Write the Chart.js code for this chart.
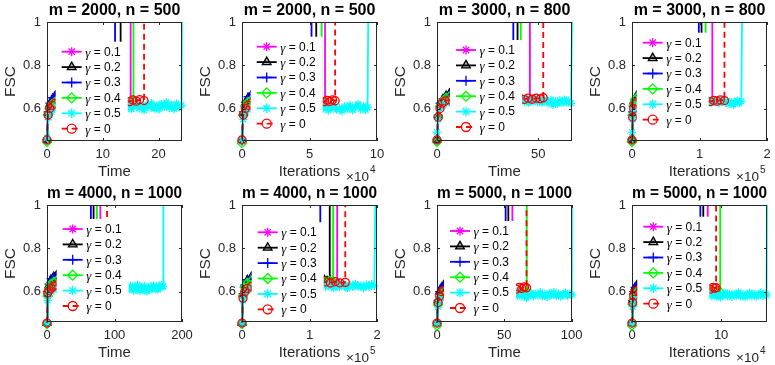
<!DOCTYPE html>
<html><head><meta charset="utf-8">
<script src="https://cdn.jsdelivr.net/npm/chart.js@4.4.0/dist/chart.umd.min.js"></script>
<style>
html,body{margin:0;padding:0;background:#fff;overflow:hidden;width:775px;height:365px;position:relative;}
canvas{position:absolute;}
</style></head><body>
<script>
// ---------------- DATA ----------------
const LEGEND_LABELS = ['γ = 0.1','γ = 0.2','γ = 0.3','γ = 0.4','γ = 0.5','γ = 0'];
const TITLES = ['m = 2000, n = 500','m = 2000, n = 500','m = 3000, n = 800','m = 3000, n = 800',
                'm = 4000, n = 1000','m = 4000, n = 1000','m = 5000, n = 1000','m = 5000, n = 1000'];
const X_LABELS = ['Time','Iterations','Time','Iterations','Time','Iterations','Time','Iterations'];
const X_EXPONENTS = ['', '4', '', '5', '', '5', '', '4'];
const X_MAX = [24.2, 10, 66.7, 2, 200, 2, 100.3, 15.15];
const X_TICKS = [[0,10,20],[0,5,10],[0,50],[0,1,2],[0,100,200],[0,1,2],[0,50,100],[0,10]];
const Y_MIN = [0.45,0.45,0.45,0.45,0.46,0.46,0.46,0.46];
const Y_MAX = 1;
const Y_TICKS = [0.6, 0.8, 1];
const Y_LABEL = 'FSC';

// Panel 1: m=2000, n=500, Time
const p1_g01 = [[0,0.455],[0.15,0.56],[0.4,0.6],[0.8,0.62],[1.3,0.635],[1.8,0.645],[4,0.645],[7,0.64],[10,0.635],[13,0.63],[15.0,0.615],[15.0,1]];
const p1_g02 = [[0,0.455],[0.2,0.58],[0.5,0.62],[1.0,0.645],[1.5,0.66],[1.9,0.665],[5,0.66],[9,0.655],[13.2,0.65],[13.2,1]];
const p1_g03 = [[0,0.455],[0.2,0.585],[0.5,0.625],[1.0,0.65],[1.5,0.66],[1.9,0.67],[5,0.665],[9,0.66],[12.2,0.655],[12.2,1]];
const p1_g04 = [[0,0.445],[0.15,0.57],[0.4,0.6],[0.9,0.62],[1.4,0.63],[1.9,0.64],[5,0.64],[10,0.638],[15.5,0.635],[15.5,1]];
const p1_g05 = [[0,0.465],[0.3,0.56],[0.8,0.585],[1.3,0.6],[1.8,0.605],[4,0.61],[8,0.607],[12,0.61],
  [14.2,0.605],[14.7,0.622],[15.1,0.598],[15.6,0.615],[16.0,0.627],[16.5,0.601],[16.9,0.612],[17.4,0.593],[17.8,0.618],
  [18.3,0.606],[18.7,0.625],[19.2,0.6],[19.6,0.614],[20.1,0.596],[20.5,0.62],[21.0,0.608],[21.4,0.628],[21.9,0.603],
  [22.3,0.616],[22.8,0.598],[23.2,0.622],[23.7,0.607],[24.1,0.615],[24.2,1]];
const p1_g0 = [[0,0.455],[0.2,0.57],[0.5,0.6],[1.0,0.615],[1.5,0.625],[4,0.63],[8,0.632],[12,0.633],[14.8,0.632],[15.4,0.64],[16.0,0.634],[16.6,0.641],[17.4,0.637],[17.4,1]];

// Panel 2: m=2000, n=500, Iterations x1e4
const p2_g01 = [[0,0.455],[0.1,0.57],[0.25,0.61],[0.45,0.63],[0.7,0.64],[2,0.64],[4,0.635],[6.15,0.62],[6.15,1]];
const p2_g02 = [[0,0.455],[0.1,0.58],[0.25,0.625],[0.45,0.65],[0.7,0.665],[2.5,0.66],[5.5,0.65],[5.5,1]];
const p2_g03 = [[0,0.45],[0.1,0.585],[0.25,0.63],[0.45,0.655],[0.7,0.665],[2.5,0.66],[5.15,0.65],[5.15,1]];
const p2_g04 = [[0,0.44],[0.1,0.57],[0.25,0.61],[0.45,0.63],[0.7,0.64],[3,0.64],[5.9,0.635],[5.9,1]];
const p2_g05 = [[0,0.46],[0.1,0.55],[0.25,0.585],[0.45,0.595],[0.7,0.6],[3,0.6],[5.8,0.6],
  [6.0,0.6],[6.2,0.612],[6.4,0.592],[6.6,0.605],[6.8,0.618],[7.0,0.595],[7.2,0.603],[7.4,0.588],[7.6,0.61],[7.8,0.598],
  [8.0,0.615],[8.2,0.593],[8.4,0.607],[8.6,0.62],[8.8,0.597],[9.0,0.611],[9.15,0.594],[9.3,0.606],[9.35,1]];
const p2_g0 = [[0,0.455],[0.1,0.57],[0.25,0.6],[0.45,0.615],[0.7,0.625],[3,0.63],[6.1,0.632],[6.3,0.638],[6.5,0.633],[6.7,0.64],[6.9,0.636],[6.9,1]];

// Panel 3: m=3000, n=800, Time
const p3_g01 = [[0,0.455],[0.6,0.56],[1.5,0.61],[3,0.635],[4.5,0.645],[6.2,0.655],[15,0.655],[30,0.65],[42,0.645],[44,0.64],[45.9,0.645],[45.9,1]];
const p3_g02 = [[0,0.455],[0.6,0.57],[1.5,0.62],[3,0.645],[4.5,0.66],[6.2,0.67],[20,0.665],[39.8,0.66],[39.8,1]];
const p3_g03 = [[0,0.455],[0.6,0.57],[1.5,0.625],[3,0.645],[4.5,0.66],[6.2,0.665],[20,0.66],[37.7,0.655],[37.7,1]];
const p3_g04 = [[0,0.445],[0.6,0.56],[1.5,0.61],[3,0.635],[4.5,0.65],[6.2,0.655],[20,0.65],[41.4,0.65],[41.4,1]];
const p3_g05 = [[0,0.49],[0.6,0.55],[1.5,0.6],[3,0.615],[4.5,0.625],[6.2,0.63],[20,0.635],[40,0.635],
  [42.0,0.64],[43.1,0.632],[44.2,0.645],[45.3,0.628],[46.4,0.64],[47.5,0.633],[48.6,0.647],[49.7,0.63],[50.8,0.638],
  [51.9,0.627],[53.0,0.642],[54.1,0.634],[55.2,0.625],[56.3,0.64],[57.4,0.618],[58.5,0.632],[59.6,0.622],[60.7,0.637],
  [61.8,0.626],[62.9,0.641],[64.0,0.629],[65.1,0.636],[66.2,0.624],[66.7,1]];
const p3_g0 = [[0,0.455],[0.6,0.56],[1.5,0.6],[2.5,0.625],[4,0.635],[6.2,0.64],[20,0.645],[40,0.645],[43,0.642],[45,0.648],[47,0.643],[49,0.648],[51,0.645],[52.5,0.65],[52.5,1]];

// Panel 4: m=3000, n=800, Iterations x1e5
const p4_g01 = [[0,0.455],[0.01,0.57],[0.025,0.61],[0.045,0.63],[0.07,0.64],[0.3,0.645],[0.7,0.64],[1.1,0.635],[1.19,0.632],[1.19,1]];
const p4_g02 = [[0,0.455],[0.01,0.58],[0.025,0.62],[0.045,0.645],[0.07,0.66],[0.4,0.66],[1.03,0.655],[1.03,1]];
const p4_g03 = [[0,0.455],[0.01,0.585],[0.025,0.625],[0.045,0.645],[0.07,0.655],[0.4,0.655],[0.99,0.65],[0.99,1]];
const p4_g04 = [[0,0.445],[0.01,0.57],[0.025,0.615],[0.045,0.64],[0.07,0.65],[0.4,0.65],[1.09,0.645],[1.09,1]];
const p4_g05 = [[0,0.49],[0.01,0.55],[0.025,0.59],[0.045,0.6],[0.07,0.61],[0.4,0.625],[0.9,0.63],[1.12,0.63],
  [1.14,0.635],[1.17,0.628],[1.2,0.64],[1.23,0.63],[1.26,0.637],[1.29,0.625],[1.32,0.633],[1.35,0.641],[1.38,0.627],
  [1.41,0.635],[1.44,0.622],[1.47,0.63],[1.5,0.618],[1.53,0.628],[1.56,0.636],[1.59,0.625],[1.62,0.633],[1.63,1]];
const p4_g0 = [[0,0.455],[0.01,0.56],[0.025,0.6],[0.045,0.62],[0.07,0.63],[0.4,0.635],[0.9,0.635],[1.16,0.632],[1.21,0.638],[1.26,0.634],[1.31,0.64],[1.37,0.637],[1.37,1]];

// Panel 5: m=4000, n=1000, Time
const p5_g01 = [[0,0.455],[1,0.58],[3,0.615],[6,0.635],[10,0.645],[14,0.65],[40,0.65],[79,0.645],[79,1]];
const p5_g02 = [[0,0.455],[1,0.59],[3,0.63],[6,0.655],[10,0.67],[14,0.675],[40,0.67],[69,0.665],[69,1]];
const p5_g03 = [[0,0.455],[1,0.6],[3,0.635],[6,0.66],[10,0.67],[14,0.67],[40,0.665],[65,0.66],[65,1]];
const p5_g04 = [[0,0.45],[1,0.58],[3,0.615],[6,0.635],[10,0.645],[14,0.65],[40,0.65],[74,0.645],[74,1]];
const p5_g05 = [[0,0.455],[1,0.56],[3,0.59],[6,0.6],[10,0.61],[14,0.615],[60,0.62],[110,0.62],
  [120,0.62],[122,0.612],[124,0.628],[126,0.615],[128,0.606],[130,0.622],[132,0.61],[134,0.63],[136,0.617],[138,0.604],
  [140,0.62],[142,0.611],[144,0.626],[146,0.608],[148,0.602],[150,0.618],[152,0.609],[154,0.624],[156,0.614],[158,0.628],
  [160,0.616],[162,0.622],[164,0.61],[166,0.626],[168,0.619],[170,0.631],[172,0.624],[172.5,1]];
const p5_g0 = [[0,0.455],[1,0.595],[3,0.605],[6,0.615],[10,0.625],[14,0.63],[40,0.635],[89,0.635],[89,1]];

// Panel 6: m=4000, n=1000, Iterations x1e5
const p6_g01 = [[0,0.455],[0.015,0.58],[0.04,0.62],[0.08,0.64],[0.14,0.65],[0.6,0.65],[1.0,0.648],[1.25,0.645],[1.3,0.648],[1.35,0.643],[1.41,0.645],[1.41,1]];
const p6_g02 = [[0,0.455],[0.015,0.59],[0.04,0.63],[0.08,0.655],[0.14,0.67],[0.6,0.665],[1.0,0.66],[1.22,0.655],[1.26,0.65],[1.3,0.652],[1.3,1]];
const p6_g03 = [[0,0.455],[0.015,0.59],[0.04,0.63],[0.08,0.655],[0.14,0.665],[0.6,0.66],[1.16,0.655],[1.16,1]];
const p6_g04 = [[0,0.45],[0.015,0.58],[0.04,0.62],[0.08,0.64],[0.14,0.65],[0.6,0.65],[1.0,0.648],[1.24,0.645],[1.3,0.65],[1.35,0.646],[1.35,1]];
const p6_g05 = [[0,0.455],[0.015,0.56],[0.04,0.59],[0.08,0.605],[0.14,0.615],[0.6,0.625],[1.1,0.63],
  [1.2,0.63],[1.24,0.622],[1.28,0.635],[1.32,0.625],[1.36,0.618],[1.4,0.632],[1.44,0.621],[1.48,0.637],[1.52,0.626],
  [1.56,0.615],[1.6,0.63],[1.64,0.622],[1.68,0.636],[1.72,0.624],[1.76,0.628],[1.8,0.617],[1.84,0.632],[1.88,0.623],
  [1.92,0.635],[1.96,0.627],[1.975,1]];
const p6_g0 = [[0,0.455],[0.015,0.57],[0.04,0.6],[0.08,0.615],[0.14,0.625],[0.6,0.635],[1.1,0.64],[1.24,0.645],[1.31,0.64],[1.38,0.646],[1.45,0.641],[1.53,0.643],[1.53,1]];

// Panel 7: m=5000, n=1000, Time
const p7_g01 = [[0,0.455],[0.8,0.55],[2,0.59],[3.5,0.605],[5,0.615],[20,0.62],[40,0.62],[56,0.615],[56,1]];
const p7_g02 = [[0,0.455],[0.8,0.56],[2,0.6],[3.5,0.62],[5,0.63],[20,0.63],[53,0.625],[53,1]];
const p7_g03 = [[0,0.455],[0.8,0.56],[2,0.6],[3.5,0.62],[5,0.63],[20,0.63],[51,0.625],[51,1]];
const p7_g04 = [[0,0.443],[0.8,0.54],[2.4,0.57],[3.5,0.59],[5,0.6],[20,0.605],[45,0.605],[62,0.6],[66.7,0.6],[66.7,1]];
const p7_g05 = [[0,0.455],[0.8,0.53],[2,0.56],[3.5,0.575],[5,0.58],[20,0.585],[45,0.585],
  [58,0.59],[59.7,0.582],[61.4,0.595],[63.1,0.578],[64.8,0.588],[66.5,0.572],[68.2,0.586],[69.9,0.594],[71.6,0.579],
  [73.3,0.59],[75,0.583],[76.7,0.597],[78.4,0.58],[80.1,0.588],[81.8,0.576],[83.5,0.592],[85.2,0.584],[86.9,0.598],
  [88.6,0.581],[90.3,0.59],[92,0.578],[93.7,0.587],[95.4,0.595],[97.1,0.582],[98.8,0.589],[100.2,0.585],[100.3,1]];
const p7_g0 = [[0,0.455],[0.8,0.55],[2,0.58],[3.5,0.6],[5,0.605],[20,0.61],[45,0.612],[59,0.612],[61,0.62],[63,0.615],[65,0.622],[66.5,0.618],[66.5,1]];

// Panel 8: m=5000, n=1000, Iterations x1e4
const p8_g01 = [[0,0.455],[0.08,0.55],[0.2,0.59],[0.35,0.605],[0.55,0.615],[2,0.62],[5,0.62],[8.5,0.615],[8.5,1]];
const p8_g02 = [[0,0.455],[0.08,0.56],[0.2,0.6],[0.35,0.62],[0.55,0.63],[2,0.63],[8.0,0.625],[8.0,1]];
const p8_g03 = [[0,0.455],[0.08,0.56],[0.2,0.6],[0.35,0.62],[0.55,0.63],[2,0.63],[7.67,0.625],[7.67,1]];
const p8_g04 = [[0,0.443],[0.08,0.54],[0.2,0.57],[0.35,0.59],[0.55,0.6],[2,0.605],[5,0.605],[8.8,0.6],[9.4,0.598],[9.9,0.6],[9.9,1]];
const p8_g05 = [[0,0.455],[0.08,0.53],[0.2,0.56],[0.35,0.575],[0.55,0.58],[2,0.585],[5,0.585],
  [8.7,0.59],[8.95,0.58],[9.2,0.594],[9.45,0.577],[9.7,0.587],[9.95,0.574],[10.2,0.585],[10.45,0.595],[10.7,0.58],
  [10.95,0.589],[11.2,0.576],[11.45,0.59],[11.7,0.582],[11.95,0.596],[12.2,0.579],[12.45,0.588],[12.7,0.575],[12.95,0.586],
  [13.2,0.594],[13.45,0.58],[13.7,0.59],[13.95,0.578],[14.2,0.586],[14.45,0.595],[14.7,0.581],[14.95,0.589],[15.1,0.584],[15.15,1]];
const p8_g0 = [[0,0.455],[0.08,0.55],[0.2,0.58],[0.35,0.6],[0.55,0.605],[2,0.61],[5,0.612],[8.8,0.612],[9.1,0.62],[9.3,0.616],[9.44,0.618],[9.44,1]];

const SERIES = [
  [p1_g01,p1_g02,p1_g03,p1_g04,p1_g05,p1_g0],
  [p2_g01,p2_g02,p2_g03,p2_g04,p2_g05,p2_g0],
  [p3_g01,p3_g02,p3_g03,p3_g04,p3_g05,p3_g0],
  [p4_g01,p4_g02,p4_g03,p4_g04,p4_g05,p4_g0],
  [p5_g01,p5_g02,p5_g03,p5_g04,p5_g05,p5_g0],
  [p6_g01,p6_g02,p6_g03,p6_g04,p6_g05,p6_g0],
  [p7_g01,p7_g02,p7_g03,p7_g04,p7_g05,p7_g0],
  [p8_g01,p8_g02,p8_g03,p8_g04,p8_g05,p8_g0]
];

// ---------------- STYLE / LAYOUT ----------------
const FONT = '"Liberation Sans", Arial, Helvetica, sans-serif';
const GREEK_FONT = 'italic 13px "Liberation Serif", "DejaVu Serif", serif';
const STYLES = [
  {color:'#FF00FF', marker:'star',     r:4,   dash:[],    fill:'rgba(0,0,0,0)'},
  {color:'#000000', marker:'triangle', r:4.5, dash:[],    fill:'rgba(0,0,0,0.3)'},
  {color:'#0000FF', marker:'cross',    r:4.5, dash:[],    fill:'rgba(0,0,0,0)'},
  {color:'#00FF00', marker:'rectRot',  r:4.5, dash:[],    fill:'rgba(0,0,0,0)'},
  {color:'#00FFFF', marker:'star',     r:4.2, dash:[],    fill:'rgba(0,0,0,0)'},
  {color:'#FF0000', marker:'circle',   r:4,   dash:[6,4], fill:'rgba(0,0,0,0)'}
];
const LINE_W = 1.8;
const COL_LEFT = [47, 242, 437, 632];
const ROW_TOP = [22, 205];
const AX_W = 135;
const AX_H = [119, 117];
const Y_AXIS_W = 47, X_AXIS_H = 40, TITLE_H = 22, PAD_R = 20, PAD_B = 6;
const LEG_LS = [14.7,14.7,19,10.7,15.7,15.7,13,11.3];
const LEG_Y0 = [29.7,24.7,28,20.7,24,27.3,26,21.7];
const LEG_DY = 15.4;

function makePlugin(i){
  return {
    id:'matlabDeco'+i,
    afterDatasetsDraw(chart){
      const ctx = chart.ctx, a = chart.chartArea;
      const ls = a.left + LEG_LS[i], y0 = a.top + LEG_Y0[i];
      ctx.save();
      ctx.fillStyle = '#ffffff';
      ctx.fillRect(ls - 6, y0 - 10, 72, LEG_DY*5 + 19);
      LEGEND_LABELS.forEach((lab,k)=>{
        const st = STYLES[k], y = y0 + k*LEG_DY;
        ctx.strokeStyle = st.color; ctx.lineWidth = LINE_W; ctx.setLineDash(st.dash);
        ctx.beginPath(); ctx.moveTo(ls, y); ctx.lineTo(ls + 20, y); ctx.stroke();
        ctx.setLineDash([]);
        ctx.fillStyle = st.fill; ctx.strokeStyle = st.color; ctx.lineWidth = 1.3;
        Chart.helpers.drawPoint(ctx, {pointStyle:st.marker, radius:st.r+0.5, borderWidth:1.3, rotation:0}, ls + 10, y);
        ctx.fillStyle = '#000'; ctx.textAlign = 'left'; ctx.textBaseline = 'middle';
        const g = lab.charAt(0), rest = lab.slice(1);
        ctx.font = GREEK_FONT;
        ctx.fillText(g, ls + 23.5, y + 1.5);
        const gw = ctx.measureText(g).width;
        ctx.font = '12px ' + FONT;
        ctx.fillText(rest, ls + 23.5 + gw, y + 0.5);
      });
      ctx.restore();
    },
    afterDraw(chart){
      const ctx = chart.ctx, a = chart.chartArea;
      const L = Math.round(a.left), T = Math.round(a.top), R = Math.round(a.right), B = Math.round(a.bottom);
      ctx.save();
      ctx.strokeStyle = '#262626'; ctx.lineWidth = 1;
      ctx.strokeRect(L + 0.5, T + 0.5, R - L - 1, B - T - 1);
      ctx.beginPath();
      X_TICKS[i].forEach(v=>{
        const px = Math.round(chart.scales.x.getPixelForValue(v)) + 0.5;
        ctx.moveTo(px, B); ctx.lineTo(px, B - 3);
        ctx.moveTo(px, T); ctx.lineTo(px, T + 3);
      });
      Y_TICKS.forEach(v=>{
        const py = Math.round(chart.scales.y.getPixelForValue(v)) + 0.5;
        ctx.moveTo(L, py); ctx.lineTo(L + 3, py);
        ctx.moveTo(R, py); ctx.lineTo(R - 3, py);
      });
      ctx.stroke();
      if (X_EXPONENTS[i]) {
        ctx.fillStyle = '#262626';
        ctx.font = '13.5px ' + FONT; ctx.textAlign = 'right'; ctx.textBaseline = 'alphabetic';
        ctx.fillText('\u00d710', R - 8, B + 40);
        ctx.font = '10px ' + FONT; ctx.textAlign = 'left';
        ctx.fillText(X_EXPONENTS[i], R - 7, B + 31.5);
      }
      ctx.restore();
    }
  };
}

for (let i = 0; i < 8; i++) {
  const row = i < 4 ? 0 : 1, col = i % 4;
  const cv = document.createElement('canvas');
  const W = Y_AXIS_W + AX_W + PAD_R, H = TITLE_H + AX_H[row] + X_AXIS_H + PAD_B;
  cv.width = W; cv.height = H;
  cv.style.left = (COL_LEFT[col] - Y_AXIS_W) + 'px';
  cv.style.top = (ROW_TOP[row] - TITLE_H) + 'px';
  cv.style.width = W + 'px'; cv.style.height = H + 'px';
  document.body.appendChild(cv);

  const datasets = SERIES[i].map((pts,k)=>{
    const st = STYLES[k];
    return {
      label: LEGEND_LABELS[k],
      data: pts.map(p=>({x:p[0], y:p[1]})),
      showLine: true, tension: 0,
      borderColor: st.color, borderWidth: LINE_W, borderDash: st.dash,
      pointStyle: st.marker,
      pointRadius: c => (c.raw && c.raw.y >= 1) ? 0 : st.r,
      pointBorderColor: st.color, pointBackgroundColor: st.fill, pointBorderWidth: 1.3,
      pointHoverRadius: 0, clip: false, order: 5 - k
    };
  });

  new Chart(cv, {
    type: 'scatter',
    data: {datasets},
    options: {
      responsive: false, animation: false, events: [],
      layout: {padding: {left:0, right:PAD_R, top:0, bottom:PAD_B}},
      plugins: {
        legend: {display:false}, tooltip: {enabled:false},
        title: {display:true, text:TITLES[i], fullSize:false, color:'#000',
                font:{family:FONT, size:16, weight:'bold', lineHeight:1.2}, padding:{top:1.4, bottom:1.4}}
      },
      scales: {
        x: {
          type:'linear', min:0, max:X_MAX[i],
          afterBuildTicks: s => { s.ticks = X_TICKS[i].map(v=>({value:v})); },
          afterFit: s => { s.height = X_AXIS_H; },
          grid: {display:false, drawTicks:false}, border: {display:false},
          ticks: {font:{family:FONT, size:13}, color:'#262626', padding:6, maxRotation:0, autoSkip:false, callback: v => String(v)},
          title: {display:true, text:X_LABELS[i], color:'#262626', font:{family:FONT, size:15}, padding:{top:0, bottom:0}}
        },
        y: {
          type:'linear', min:Y_MIN[i], max:Y_MAX,
          afterBuildTicks: s => { s.ticks = Y_TICKS.map(v=>({value:v})); },
          afterFit: s => { s.width = Y_AXIS_W; },
          grid: {display:false, drawTicks:false}, border: {display:false},
          ticks: {font:{family:FONT, size:13}, color:'#262626', padding:6, callback: v => String(v)},
          title: {display:true, text:Y_LABEL, color:'#262626', font:{family:FONT, size:15.5}, padding:{top:1, bottom:0}}
        }
      }
    },
    plugins: [makePlugin(i)]
  });
}
</script>
</body></html>
